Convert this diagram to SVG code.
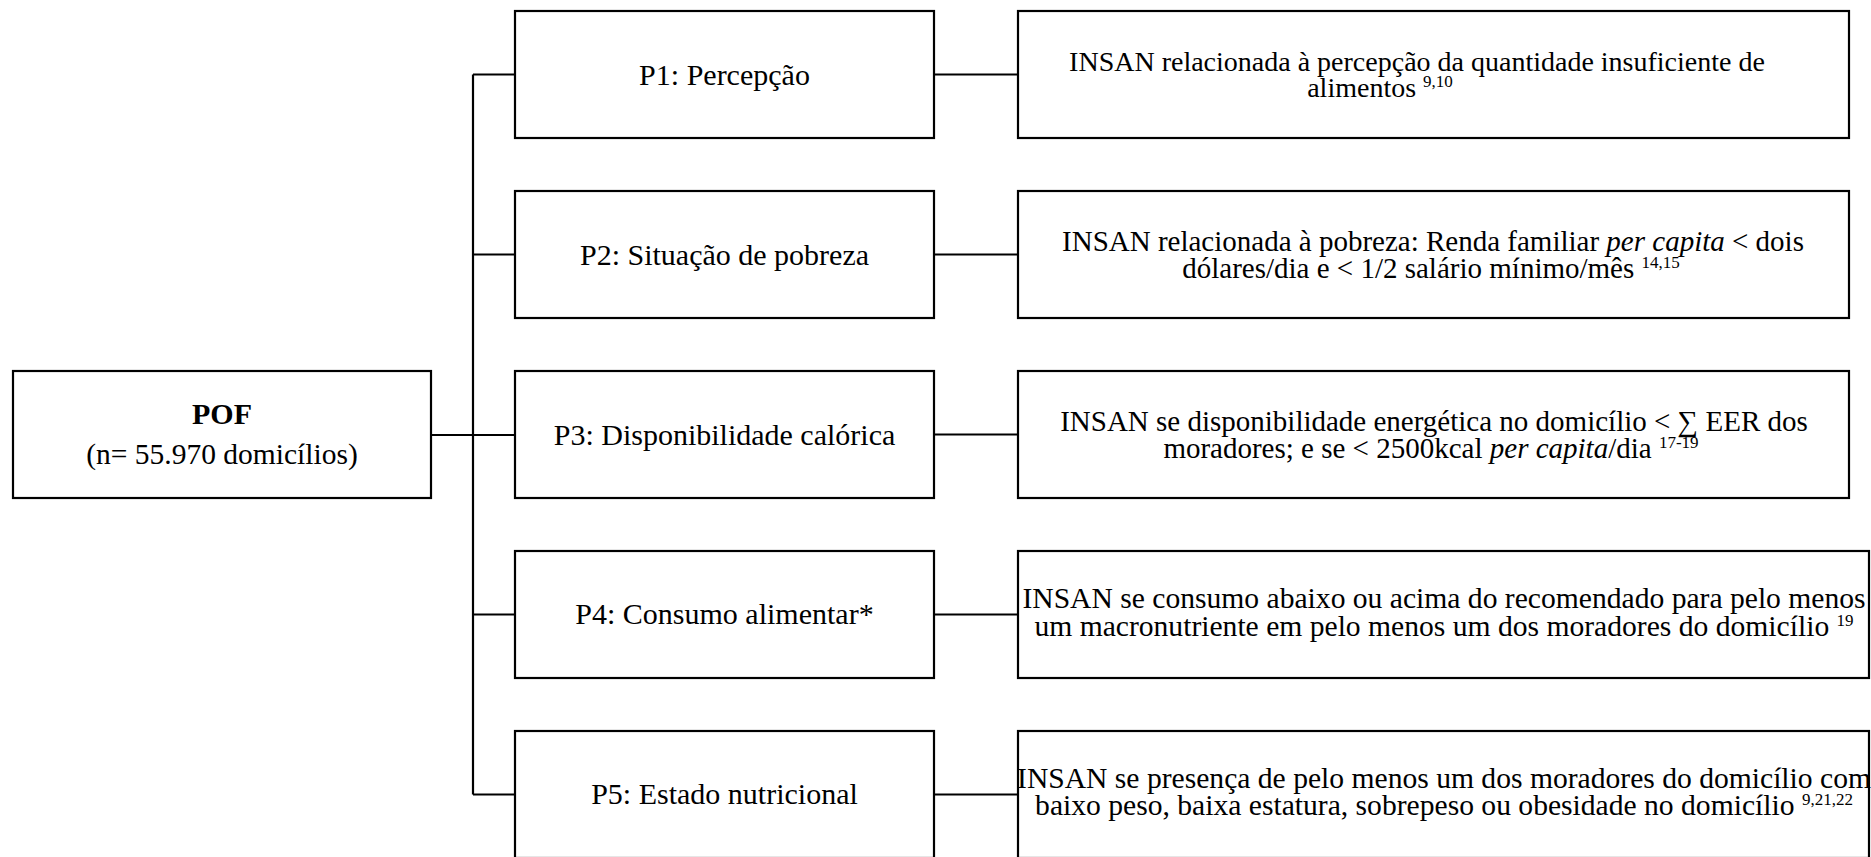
<svg xmlns="http://www.w3.org/2000/svg" width="1871" height="857" viewBox="0 0 1871 857">
<style>
.box{fill:#fff;stroke:#000;stroke-width:2.2}
.ln{stroke:#000;stroke-width:2.2;fill:none}
.t{font-family:"Liberation Serif","Times New Roman",serif;font-size:30px;fill:#000;text-anchor:middle}
.r{font-size:29px}
.r1{font-size:28px}
.rw{font-size:29.6px}
.b{font-weight:bold}
.i{font-style:italic}
.sup{font-size:17px}
</style>
<rect width="1871" height="857" fill="#fff"/>
<g id="connectors">
<path class="ln" d="M431 435H515"/>
<path class="ln" d="M473 74.5V794.5"/>
<path class="ln" d="M473 74.5H515M473 254.5H515M473 614.5H515M473 794.5H515"/>
<path class="ln" d="M934 74.5H1018M934 254.5H1018M934 434.5H1018M934 614.5H1018M934 794.5H1018"/>
</g>
<g id="pof">
<rect class="box" x="13" y="371" width="418" height="127"/>
<text class="t b" x="222" y="424">POF</text>
<text class="t" x="222" y="464" style="font-size:29.5px">(n= 55.970 domicílios)</text>
</g>
<g id="p1">
<rect class="box" x="515" y="11" width="419" height="127"/>
<text class="t" x="724.5" y="85">P1: Percepção</text>
</g>
<g id="p2">
<rect class="box" x="515" y="191" width="419" height="127"/>
<text class="t" x="724.5" y="265">P2: Situação de pobreza</text>
</g>
<g id="p3">
<rect class="box" x="515" y="371" width="419" height="127"/>
<text class="t" x="724.5" y="445">P3: Disponibilidade calórica</text>
</g>
<g id="p4">
<rect class="box" x="515" y="551" width="419" height="127"/>
<text class="t" x="724.5" y="624">P4: Consumo alimentar*</text>
</g>
<g id="p5">
<rect class="box" x="515" y="731" width="419" height="127"/>
<text class="t" x="724.5" y="804">P5: Estado nutricional</text>
</g>
<g id="r1">
<rect class="box" x="1018" y="11" width="831" height="127"/>
<text class="t r1" x="1417" y="71">INSAN relacionada à percepção da quantidade insuficiente de</text>
<text class="t r1" x="1380" y="97">alimentos <tspan class="sup" dy="-10">9,10</tspan></text>
</g>
<g id="r2">
<rect class="box" x="1018" y="191" width="831" height="127"/>
<text class="t r" x="1433" y="251">INSAN relacionada à pobreza: Renda familiar <tspan class="i">per capita</tspan> &lt; dois</text>
<text class="t r" x="1431" y="278">dólares/dia e &lt; 1/2 salário mínimo/mês <tspan class="sup" dy="-10">14,15</tspan></text>
</g>
<g id="r3">
<rect class="box" x="1018" y="371" width="831" height="127"/>
<text class="t r" x="1434" y="431">INSAN se disponibilidade energética no domicílio &lt; ∑ EER dos</text>
<text class="t r" x="1431" y="458">moradores; e se &lt; 2500kcal <tspan class="i">per capita</tspan>/dia <tspan class="sup" dy="-10">17-19</tspan></text>
</g>
<g id="r4">
<rect class="box" x="1018" y="551" width="851" height="127"/>
<text class="t rw" x="1444" y="608">INSAN se consumo abaixo ou acima do recomendado para pelo menos</text>
<text class="t rw" x="1444" y="636">um macronutriente em pelo menos um dos moradores do domicílio <tspan class="sup" dy="-10">19</tspan></text>
</g>
<g id="r5">
<rect class="box" x="1018" y="731" width="851" height="127"/>
<text class="t rw" x="1444" y="788">INSAN se presença de pelo menos um dos moradores do domicílio com</text>
<text class="t rw" x="1444" y="815">baixo peso, baixa estatura, sobrepeso ou obesidade no domicílio <tspan class="sup" dy="-10">9,21,22</tspan></text>
</g>
</svg>
